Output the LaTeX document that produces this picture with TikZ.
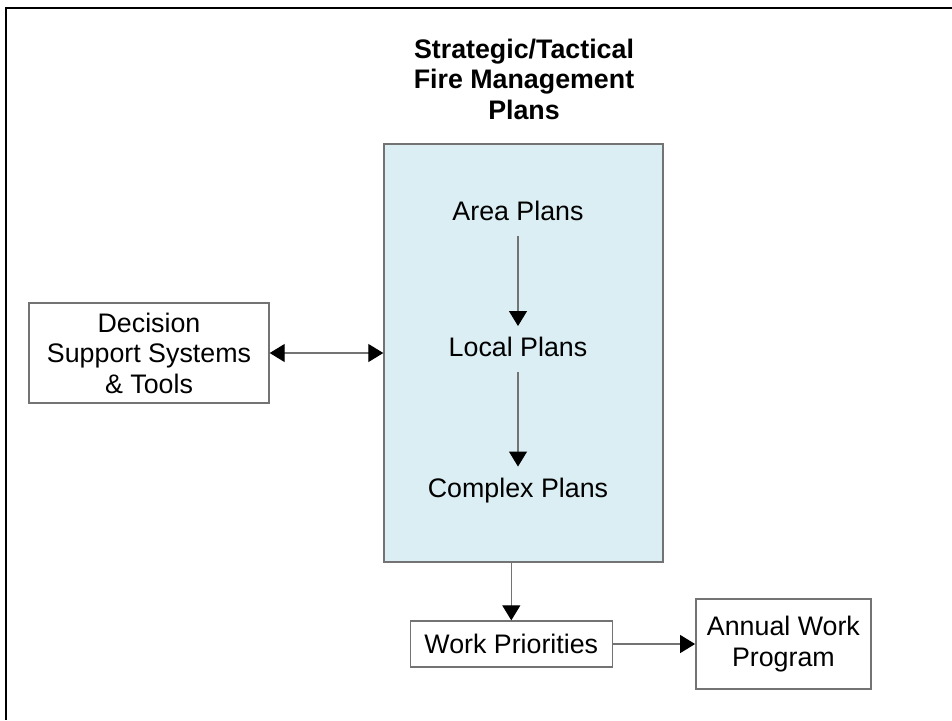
\documentclass[tikz,border=0pt]{standalone}
\usepackage{fontspec}
\setmainfont{Liberation Sans}
\usepackage{tikz}
\usetikzlibrary{arrows.meta,positioning}
\definecolor{planblue}{RGB}{218,238,243}
\definecolor{edgegray}{RGB}{115,115,115}
\newcommand{\diagfont}{\fontsize{13.4pt}{15.25pt}\selectfont}
\tikzstyle{planbox}=[draw=edgegray,fill=planblue,line width=0.7pt,minimum width=139.5pt,minimum height=209pt,inner sep=0pt]
\tikzstyle{plainbox}=[draw=edgegray,fill=white,line width=0.7pt,align=center,inner sep=0pt]
\tikzstyle{planlabel}=[text height=9.6pt,text depth=2pt,inner sep=5.5pt]
\tikzstyle{flow}=[draw=edgegray,line width=0.6pt,-{Triangle[length=7.5pt,width=9pt,color=black]}]

\begin{document}
\begin{tikzpicture}[x=0.5pt,y=-0.5pt,font=\diagfont]
\useasboundingbox (0,0) rectangle (952,720);
\draw [line width=1.25pt] (6,720) |- (952,8);

\node [font=\diagfont\bfseries,align=center] (title) at (524,79) {Strategic/Tactical\\Fire Management\\Plans};
\node [planbox] (plans) at (523.5,353) {};

\node [planlabel] (area) at (518,213) {Area Plans};
\node [planlabel] (local) at (518,349) {Local Plans};
\node [planlabel] (complex) at (518,489.5) {Complex Plans};
\draw [flow] (area) -- (local);
\draw [flow] (local) -- (complex);

\node [plainbox,minimum width=120pt,minimum height=50pt] (dss) at (149,353) {Decision\\Support Systems\\\& Tools};
\draw [flow,{Triangle[length=7.5pt,width=9pt,color=black]}-{Triangle[length=7.5pt,width=9pt,color=black]}] (dss) -- (plans);

\node [plainbox,minimum width=101pt,minimum height=23pt] (work) at (511.3,644) {Work Priorities};
\node [plainbox,minimum width=87.6pt,minimum height=45pt] (annual) at (783.4,644) {Annual Work\\Program};
\draw [flow] (plans.south -| work.north) -- (work.north);
\draw [flow] (work) -- (annual);
\end{tikzpicture}
\end{document}
